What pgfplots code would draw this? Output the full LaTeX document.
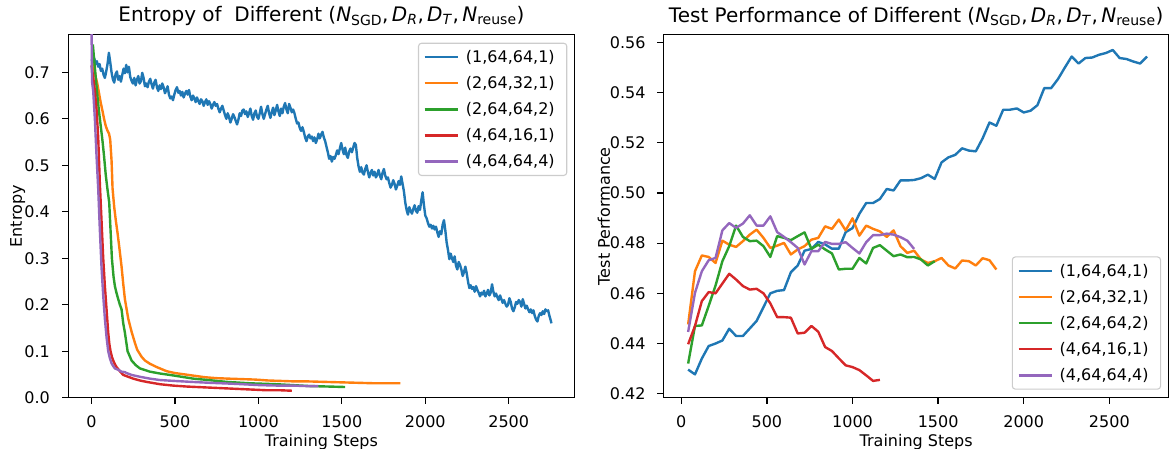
\documentclass[border=0pt]{standalone}
\usepackage{pgfplots}
\pgfplotsset{compat=1.18}
\usepackage{fontspec}
\setmainfont{DejaVu Sans}
\definecolor{c0}{HTML}{1F77B4}
\definecolor{c1}{HTML}{FF7F0E}
\definecolor{c2}{HTML}{2CA02C}
\definecolor{c3}{HTML}{D62728}
\definecolor{c4}{HTML}{9467BD}
\newcommand{\tuple}{(\textit{N}\textsubscript{SGD},\,\textit{D}\textsubscript{\textit{R}},\,\textit{D}\textsubscript{\textit{T}},\,\textit{N}\textsubscript{reuse})}
\pgfplotsset{
  mpl/.style={
    scale only axis, width=505.8pt, height=363pt,
    axis line style={line width=1.3pt, black},
    tick align=outside, tick pos=left, major tick length=6pt,
    every tick/.style={black, line width=1.3pt},
    tick label style={font=\fontsize{16}{19}\selectfont, inner sep=0pt},
    /pgf/number format/assume math mode=true,
    /pgf/number format/1000 sep={},
    xticklabel style={anchor=north, yshift=-12pt},
    label style={font=\fontsize{16}{19}\selectfont, inner sep=0pt},
    xlabel style={at={(axis description cs:0.5,0)}, anchor=north, yshift=-36.5pt},
    title style={font=\fontsize{20}{24}\selectfont, at={(axis description cs:0.5,1)}, anchor=south, yshift=2.5pt, inner sep=0pt},
    legend cell align=left,
    legend image code/.code={\draw[#1, line width=2.4pt] (0pt,0pt) -- (33pt,0pt);},
    legend style={font=\fontsize{16}{19}\selectfont, draw=black!20, line width=1.1pt,
      rounded corners=3pt, fill=white, fill opacity=0.8, text opacity=1, draw opacity=1,
      inner xsep=5pt, inner ysep=5pt, row sep=8.5pt, nodes={inner xsep=7pt, inner ysep=2pt}},
    every axis plot/.append style={line width=2.4pt, line join=round},
  }
}
\begin{document}
\begin{tikzpicture}
\path[use as bounding box] (0pt,0pt) rectangle (1169pt,449pt);
\clip (0pt,0pt) rectangle (1169pt,449pt);
\begin{axis}[mpl, at={(68.5pt,51.3pt)}, anchor=south west,
  xmin=-138, xmax=2893, ymin=0, ymax=0.781,
  xtick={0,500,1000,1500,2000,2500},
  ytick={0,0.1,0.2,0.3,0.4,0.5,0.6,0.7},
  yticklabel style={anchor=east, xshift=-12.5pt, /pgf/number format/fixed, /pgf/number format/fixed zerofill, /pgf/number format/precision=1},
  ylabel style={at={(axis description cs:0,0.5)}, anchor=south, yshift=43.2pt},
  title={Entropy of\ \ Different \tuple},
  xlabel={Training Steps}, ylabel={Entropy},
  legend style={at={(1,1)}, anchor=north east, xshift=-7pt, yshift=-8pt},
]
\addplot[c0] coordinates {
(0,0.728)(8,0.722)(16,0.731)(24,0.718)(32,0.724)(40,0.712)(48,0.718)(56,0.703)(64,0.708)(72,0.695)
(80,0.688)(88,0.702)(96,0.718)(104,0.742)(112,0.722)(120,0.700)(128,0.685)(136,0.678)(144,0.696)(152,0.702)
(160,0.684)(168,0.692)(176,0.680)(184,0.694)(192,0.708)(200,0.698)(208,0.716)(216,0.700)(224,0.712)(232,0.690)
(240,0.682)(248,0.676)(256,0.688)(264,0.672)(272,0.684)(280,0.692)(288,0.676)(296,0.681)(304,0.699)(312,0.688)
(320,0.670)(328,0.676)(336,0.668)(344,0.680)(352,0.686)(360,0.674)(368,0.665)(376,0.678)(384,0.684)(392,0.668)
(400,0.660)(408,0.672)(416,0.664)(424,0.676)(432,0.668)(440,0.655)(448,0.662)(456,0.670)(464,0.652)(472,0.644)
(480,0.648)(488,0.640)(496,0.652)(504,0.662)(512,0.668)(520,0.656)(528,0.660)(536,0.650)(544,0.658)(552,0.646)
(560,0.654)(568,0.660)(576,0.652)(584,0.662)(592,0.648)(600,0.640)(608,0.650)(616,0.644)(624,0.636)(632,0.646)
(640,0.638)(648,0.632)(656,0.642)(664,0.638)(672,0.628)(680,0.636)(688,0.642)(696,0.630)(704,0.638)(712,0.632)
(720,0.622)(728,0.630)(736,0.636)(744,0.628)(752,0.632)(760,0.622)(768,0.614)(776,0.622)(784,0.628)(792,0.618)
(800,0.608)(808,0.600)(816,0.612)(824,0.604)(832,0.592)(840,0.600)(848,0.610)(856,0.604)(864,0.596)(872,0.588)
(880,0.598)(888,0.612)(896,0.606)(904,0.618)(912,0.620)(920,0.610)(928,0.616)(936,0.604)(944,0.612)(952,0.622)
(960,0.606)(968,0.598)(976,0.612)(984,0.618)(992,0.604)(1000,0.600)(1008,0.612)(1016,0.626)(1024,0.610)(1032,0.600)
(1040,0.610)(1048,0.620)(1056,0.628)(1064,0.612)(1072,0.602)(1080,0.614)(1088,0.624)(1096,0.608)(1104,0.618)(1112,0.630)
(1120,0.616)(1128,0.606)(1136,0.622)(1144,0.612)(1152,0.626)(1160,0.634)(1168,0.620)(1176,0.612)(1184,0.632)(1192,0.624)
(1200,0.614)(1208,0.620)(1216,0.612)(1224,0.600)(1232,0.590)(1240,0.592)(1248,0.580)(1256,0.574)(1264,0.582)(1272,0.572)
(1280,0.560)(1288,0.552)(1296,0.562)(1304,0.566)(1312,0.558)(1320,0.562)(1328,0.552)(1336,0.560)(1344,0.548)(1352,0.556)
(1360,0.568)(1368,0.558)(1376,0.566)(1384,0.572)(1392,0.560)(1400,0.552)(1408,0.540)(1416,0.528)(1424,0.514)(1432,0.520)
(1440,0.508)(1448,0.518)(1456,0.514)(1464,0.522)(1472,0.532)(1480,0.524)(1488,0.536)(1496,0.548)(1504,0.534)(1512,0.524)
(1520,0.538)(1528,0.522)(1536,0.516)(1544,0.530)(1552,0.536)(1560,0.528)(1568,0.538)(1576,0.548)(1584,0.544)(1592,0.516)
(1600,0.498)(1608,0.486)(1616,0.496)(1624,0.484)(1632,0.480)(1640,0.492)(1648,0.500)(1656,0.486)(1664,0.474)(1672,0.484)
(1680,0.490)(1688,0.478)(1696,0.486)(1704,0.474)(1712,0.480)(1720,0.490)(1728,0.478)(1736,0.470)(1744,0.484)(1752,0.492)
(1760,0.478)(1768,0.470)(1776,0.474)(1784,0.462)(1792,0.452)(1800,0.458)(1808,0.468)(1816,0.460)(1824,0.448)(1832,0.456)
(1840,0.466)(1848,0.458)(1856,0.476)(1864,0.460)(1872,0.444)(1880,0.420)(1888,0.404)(1896,0.394)(1904,0.410)(1912,0.402)
(1920,0.396)(1928,0.406)(1936,0.414)(1944,0.402)(1952,0.398)(1960,0.412)(1968,0.404)(1976,0.424)(1984,0.442)(1992,0.414)
(2000,0.392)(2008,0.386)(2016,0.376)(2024,0.368)(2032,0.372)(2040,0.364)(2048,0.370)(2056,0.362)(2064,0.368)(2072,0.356)
(2080,0.346)(2088,0.358)(2096,0.352)(2104,0.372)(2112,0.382)(2120,0.360)(2128,0.334)(2136,0.318)(2144,0.298)(2152,0.310)
(2160,0.300)(2168,0.292)(2176,0.304)(2184,0.284)(2192,0.276)(2200,0.292)(2208,0.286)(2216,0.276)(2224,0.262)(2232,0.270)
(2240,0.282)(2248,0.268)(2256,0.250)(2264,0.236)(2272,0.242)(2280,0.234)(2288,0.238)(2296,0.228)(2304,0.240)(2312,0.232)
(2320,0.226)(2328,0.218)(2336,0.226)(2344,0.222)(2352,0.230)(2360,0.218)(2368,0.224)(2376,0.232)(2384,0.220)(2392,0.226)
(2400,0.244)(2408,0.228)(2416,0.218)(2424,0.224)(2432,0.216)(2440,0.210)(2448,0.220)(2456,0.212)(2464,0.204)(2472,0.210)
(2480,0.202)(2488,0.196)(2496,0.200)(2504,0.214)(2512,0.206)(2520,0.192)(2528,0.186)(2536,0.194)(2544,0.206)(2552,0.202)
(2560,0.210)(2568,0.206)(2576,0.196)(2584,0.212)(2592,0.202)(2600,0.192)(2608,0.198)(2616,0.190)(2624,0.184)(2632,0.190)
(2640,0.182)(2648,0.188)(2656,0.176)(2664,0.168)(2672,0.164)(2680,0.176)(2688,0.182)(2696,0.178)(2704,0.186)(2712,0.180)
(2720,0.190)(2728,0.186)(2736,0.188)(2744,0.176)(2752,0.166)(2756,0.160)
};
\addlegendentry{(1,64,64,1)}
\addplot[c1] coordinates {
(5,0.725)(15,0.710)(25,0.690)(35,0.675)(45,0.655)(55,0.635)(65,0.618)(75,0.600)(85,0.585)(95,0.575)
(105,0.568)(112,0.555)(120,0.510)(126,0.450)(136,0.410)(146,0.380)(156,0.354)(166,0.325)(180,0.282)(190,0.245)
(200,0.212)(220,0.170)(240,0.142)(260,0.118)(274,0.103)(300,0.088)(320,0.080)(350,0.073)(390,0.066)(450,0.057)
(500,0.053)(560,0.050)(620,0.047)(680,0.044)(750,0.042)(820,0.041)(900,0.040)(980,0.039)(1060,0.037)(1140,0.036)
(1220,0.035)(1300,0.035)(1400,0.034)(1500,0.033)(1600,0.032)(1700,0.031)(1780,0.031)(1850,0.031)
};
\addlegendentry{(2,64,32,1)}
\addplot[c2] coordinates {
(8,0.760)(15,0.730)(25,0.690)(35,0.650)(45,0.615)(55,0.585)(65,0.555)(75,0.520)(85,0.480)(95,0.450)
(106,0.420)(114,0.360)(122,0.300)(132,0.260)(140,0.240)(150,0.225)(160,0.212)(170,0.200)(180,0.190)(190,0.160)
(200,0.140)(216,0.100)(240,0.080)(265,0.070)(290,0.063)(350,0.056)(410,0.052)(470,0.049)(540,0.045)(610,0.041)
(700,0.038)(810,0.034)(950,0.031)(1110,0.029)(1210,0.027)(1310,0.025)(1420,0.024)(1520,0.023)
};
\addlegendentry{(2,64,64,2)}
\addplot[c3] coordinates {
(0,0.715)(10,0.690)(20,0.660)(30,0.620)(40,0.560)(50,0.460)(60,0.380)(70,0.300)(80,0.240)(86,0.210)
(93,0.175)(100,0.140)(107,0.115)(114,0.100)(122,0.088)(130,0.080)(140,0.072)(150,0.066)(170,0.057)(190,0.049)
(220,0.045)(250,0.041)(290,0.037)(330,0.034)(410,0.029)(490,0.026)(570,0.024)(690,0.022)(810,0.020)(930,0.018)
(1050,0.016)(1130,0.016)(1200,0.015)
};
\addlegendentry{(4,64,16,1)}
\addplot[c4] coordinates {
(0,0.800)(3,0.680)(10,0.660)(20,0.600)(30,0.520)(40,0.450)(50,0.360)(60,0.280)(70,0.220)(80,0.170)
(90,0.130)(100,0.100)(110,0.085)(120,0.074)(130,0.068)(140,0.063)(160,0.060)(180,0.056)(200,0.055)(210,0.053)
(240,0.049)(290,0.045)(350,0.041)(410,0.038)(500,0.036)(600,0.034)(710,0.032)(850,0.030)(1010,0.027)(1120,0.026)
(1210,0.026)(1290,0.025)(1360,0.025)
};
\addlegendentry{(4,64,64,4)}
\end{axis}
\begin{axis}[mpl, at={(663.3pt,51.3pt)}, anchor=south west,
  xmin=-105, xmax=2849, ymin=0.4184, ymax=0.5631,
  xtick={0,500,1000,1500,2000,2500},
  ytick={0.42,0.44,0.46,0.48,0.50,0.52,0.54,0.56},
  yticklabel style={anchor=east, xshift=-11.6pt, /pgf/number format/fixed, /pgf/number format/fixed zerofill, /pgf/number format/precision=2},
  ylabel style={at={(axis description cs:0,0.5)}, anchor=south, yshift=53pt},
  title={Test Performance of Different \tuple},
  xlabel={Training Steps}, ylabel={Test Performance},
  legend style={at={(1,0)}, anchor=south east, xshift=-8pt, yshift=8pt},
]
\addplot[c0] coordinates {
(40,0.4296)(80,0.4277)(120,0.4340)(160,0.4390)(200,0.4400)(240,0.4412)(280,0.4459)(320,0.4430)(360,0.4430)(400,0.4460)
(440,0.4490)(480,0.4545)(520,0.4600)(560,0.4610)(600,0.4613)(640,0.4684)(680,0.4711)(720,0.4770)(760,0.4777)(800,0.4805)
(840,0.4795)(880,0.4778)(920,0.4778)(960,0.4844)(1000,0.4860)(1040,0.4917)(1080,0.4960)(1120,0.4960)(1160,0.4976)(1200,0.5016)
(1240,0.5010)(1280,0.5050)(1320,0.5050)(1360,0.5052)(1400,0.5059)(1440,0.5073)(1480,0.5056)(1520,0.5122)(1560,0.5142)(1600,0.5152)
(1640,0.5178)(1680,0.5169)(1720,0.5166)(1760,0.5218)(1800,0.5281)(1840,0.5268)(1880,0.5332)(1920,0.5332)(1960,0.5337)(2000,0.5321)
(2040,0.5328)(2080,0.5350)(2120,0.5418)(2160,0.5418)(2200,0.5454)(2240,0.5500)(2280,0.5544)(2320,0.5516)(2360,0.5538)(2400,0.5540)
(2440,0.5551)(2480,0.5558)(2520,0.5570)(2560,0.5538)(2600,0.5534)(2640,0.5524)(2680,0.5516)(2720,0.5544)
};
\addlegendentry{(1,64,64,1)}
\addplot[c1] coordinates {
(40,0.4476)(80,0.4688)(120,0.4751)(160,0.4745)(200,0.4721)(240,0.4810)(280,0.4794)(320,0.4785)(360,0.4808)(400,0.4834)
(440,0.4854)(480,0.4821)(520,0.4781)(560,0.4790)(600,0.4801)(640,0.4755)(680,0.4775)(720,0.4788)(760,0.4814)(800,0.4821)
(840,0.4867)(880,0.4857)(920,0.4894)(960,0.4851)(1000,0.4899)(1040,0.4830)(1080,0.4870)(1120,0.4857)(1160,0.4847)(1200,0.4825)
(1240,0.4851)(1280,0.4788)(1320,0.4761)(1360,0.4770)(1400,0.4735)(1440,0.4721)(1480,0.4728)(1520,0.4741)(1560,0.4711)(1600,0.4699)
(1640,0.4731)(1680,0.4728)(1720,0.4711)(1760,0.4740)(1800,0.4732)(1840,0.4695)
};
\addlegendentry{(2,64,32,1)}
\addplot[c2] coordinates {
(40,0.4320)(80,0.4470)(120,0.4472)(160,0.4550)(200,0.4631)(240,0.4728)(280,0.4788)(320,0.4870)(360,0.4825)(400,0.4808)
(440,0.4810)(480,0.4788)(520,0.4745)(560,0.4828)(600,0.4821)(640,0.4812)(680,0.4828)(720,0.4843)(760,0.4777)(800,0.4794)
(840,0.4775)(880,0.4759)(920,0.4695)(960,0.4698)(1000,0.4698)(1040,0.4741)(1080,0.4719)(1120,0.4781)(1160,0.4792)(1200,0.4770)
(1240,0.4748)(1280,0.4755)(1320,0.4744)(1360,0.4745)(1400,0.4735)(1440,0.4711)(1480,0.4728)
};
\addlegendentry{(2,64,64,2)}
\addplot[c3] coordinates {
(40,0.4397)(80,0.4470)(120,0.4569)(160,0.4605)(200,0.4600)(240,0.4639)(280,0.4678)(320,0.4655)(360,0.4629)(400,0.4615)
(440,0.4618)(480,0.4600)(520,0.4560)(560,0.4505)(600,0.4505)(640,0.4503)(680,0.4440)(720,0.4443)(760,0.4470)(800,0.4447)
(840,0.4386)(880,0.4370)(920,0.4341)(960,0.4313)(1000,0.4306)(1040,0.4294)(1080,0.4273)(1120,0.4251)(1160,0.4255)
};
\addlegendentry{(4,64,16,1)}
\addplot[c4] coordinates {
(40,0.4446)(80,0.4602)(120,0.4688)(160,0.4732)(200,0.4741)(240,0.4851)(280,0.4880)(320,0.4861)(360,0.4878)(400,0.4911)
(440,0.4870)(480,0.4870)(520,0.4907)(560,0.4844)(600,0.4825)(640,0.4804)(680,0.4781)(720,0.4715)(760,0.4768)(800,0.4768)
(840,0.4805)(880,0.4797)(920,0.4797)(960,0.4804)(1000,0.4781)(1040,0.4759)(1080,0.4804)(1120,0.4832)(1160,0.4832)(1200,0.4838)
(1240,0.4834)(1280,0.4824)(1320,0.4810)(1360,0.4777)
};
\addlegendentry{(4,64,64,4)}
\end{axis}
\end{tikzpicture}
\end{document}
